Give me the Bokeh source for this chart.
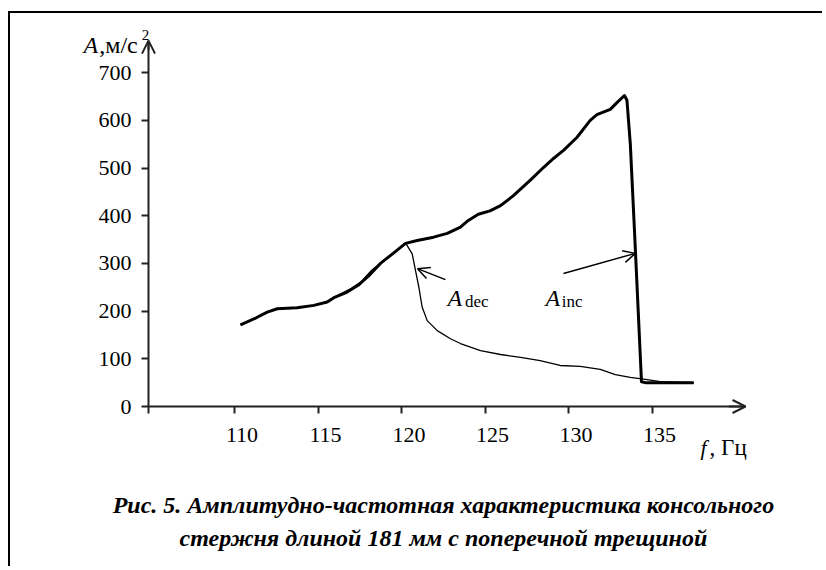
from bokeh.plotting import figure
from bokeh.models import Range1d, FixedTicker, Label, Arrow, OpenHead, LinearAxis
from bokeh.embed import file_html
from bokeh.resources import INLINE

# ---- data ----
f_inc = [110.36, 111.3, 111.96, 112.56, 113.75, 114.75, 115.55, 115.95, 116.75, 117.4,
         118.1, 118.74, 119.5, 120.24, 120.94, 121.92, 122.74, 123.53, 124.0, 124.6,
         125.3, 125.93, 126.7, 127.7, 128.5, 129.1, 129.7, 130.5, 131.3, 131.7,
         132.5, 132.9, 133.35, 133.5, 133.7, 133.95, 134.37, 134.6, 135.5, 137.5]
a_inc = [171, 186, 198, 205, 207, 212, 219, 228, 240, 254,
         276, 300, 321, 342, 348, 355, 363, 376, 390, 403,
         410, 421, 442, 474, 501, 520, 537, 564, 600, 612,
         623, 637, 652, 642, 551, 369, 52, 50, 50, 50]

f_dec = [110.36, 111.3, 111.96, 112.56, 113.75, 114.75, 115.55, 116.3, 117.0, 117.6,
         118.2, 118.74, 119.5, 120.24, 120.64, 120.84, 121.04, 121.24, 121.54, 122.14,
         122.93, 123.53, 124.73, 125.93, 127.13, 128.3, 129.5, 130.7, 131.9, 132.8,
         133.7, 134.6, 135.5, 137.5]
a_dec = [171, 186, 198, 205, 207, 212, 219, 235, 248, 262,
         285, 301, 321, 343, 320, 285, 250, 208, 180, 159,
         142, 132, 117, 109, 103, 96, 86, 84, 78, 67,
         61, 57, 52, 50]

x_ticks = [110, 115, 120, 125, 130, 135]
y_ticks = [0, 100, 200, 300, 400, 500, 600, 700]

X0, X_END = 104.85, 140.6
Y_END = 767
LABEL_SHIFT = 0.45   # x tick labels sit slightly right of their ticks in the original

SERIF = "Liberation Serif"
W, H = 814, 555
XPX, YPX = 16.7, 0.477          # pixels per unit
xs = X0 - 138 / XPX
ye = 393 / YPX

p = figure(width=W, height=H,
           x_range=Range1d(xs, xs + W / XPX),
           y_range=Range1d(ye - H / YPX, ye),
           output_backend="svg", toolbar_location=None)
p.min_border = 0
p.title.visible = False
p.styles = {"border-top": "2px solid black", "border-left": "2px solid black",
            "margin-top": "11px", "margin-left": "8px"}
p.xgrid.visible = False
p.ygrid.visible = False
p.outline_line_color = None
p.background_fill_color = "white"
p.border_fill_color = "white"

for ax in (p.xaxis[0], p.yaxis[0]):
    ax.axis_line_width = 2
    ax.axis_line_color = "#222222"
    ax.major_tick_line_width = 2
    ax.major_tick_line_color = "#222222"
    ax.major_tick_out = 7
    ax.major_tick_in = 0
    ax.minor_tick_out = 0
    ax.minor_tick_in = 0
    ax.major_label_text_font = SERIF
    ax.major_label_text_font_size = "22px"
    ax.major_label_text_color = "black"

p.xaxis[0].fixed_location = 0
p.yaxis[0].fixed_location = X0
p.xaxis[0].ticker = FixedTicker(ticks=[X0] + x_ticks)
p.xaxis[0].major_label_text_color = None
p.xaxis[0].bounds = (X0, X_END)
p.yaxis[0].ticker = FixedTicker(ticks=y_ticks)
p.yaxis[0].bounds = (0, Y_END)
p.yaxis[0].major_label_standoff = 10

# label-only x axis (labels offset a little to the right of the ticks)
lab_ticks = [t + LABEL_SHIFT for t in x_ticks]
lab_axis = LinearAxis(fixed_location=0, ticker=FixedTicker(ticks=lab_ticks),
                      major_label_overrides={lt: str(t) for lt, t in zip(lab_ticks, x_ticks)},
                      axis_line_color=None, major_tick_line_color=None,
                      minor_tick_line_color=None, major_tick_out=7, major_tick_in=0,
                      minor_tick_out=0, minor_tick_in=0,
                      major_label_standoff=14, major_label_text_font=SERIF,
                      major_label_text_font_size="22px", major_label_text_color="black")
p.add_layout(lab_axis, "below")

# axis arrows
p.add_layout(Arrow(end=OpenHead(size=13, line_width=2, line_color="#222222"),
                   x_start=X0, y_start=Y_END - 20, x_end=X0, y_end=Y_END,
                   line_width=2, line_color="#222222"))
p.add_layout(Arrow(end=OpenHead(size=13, line_width=2, line_color="#222222"),
                   x_start=X_END - 1, y_start=0, x_end=X_END, y_end=0,
                   line_width=2, line_color="#222222"))

# curves
p.line(f_dec, a_dec, line_width=1.3, line_color="black")
p.line(f_inc, a_inc, line_width=3, line_color="black", line_join="round")

# annotation arrows
p.add_layout(Arrow(end=OpenHead(size=12, line_width=1.5), x_start=122.63, y_start=266,
                   x_end=120.96, y_end=289, line_width=1.5))
p.add_layout(Arrow(end=OpenHead(size=12, line_width=1.5), x_start=129.70, y_start=279,
                   x_end=134.0, y_end=321, line_width=1.5))

def lab(x, y, text, size, style="normal", baseline="alphabetic", align="left"):
    p.add_layout(Label(x=x, y=y, text=text, text_font=SERIF, text_font_size=size,
                       text_font_style=style, text_baseline=baseline,
                       text_align=align, text_color="black"))

lab(122.75, 228.5, "A", "24px", "italic")
lab(123.80, 220, "dec", "17px")
lab(128.62, 228.5, "A", "24px", "italic")
lab(129.60, 220, "inc", "17px")

# axis titles
lab(100.96, 757, "A", "24px", "italic")
lab(101.9, 757, ",м/с", "24px")
lab(104.45, 779, "2", "15px")
lab(137.9, -86, "f", "22px", "italic")
lab(138.45, -86, ", Гц", "23px")

# caption
lab(122.51, -207.5, "Рис. 5. Амплитудно-частотная характеристика консольного", "24px",
    "bold italic", "middle", "center")
lab(122.51, -276.7, "стержня длиной 181 мм с поперечной трещиной", "24px",
    "bold italic", "middle", "center")

open("out.html", "w").write(file_html(p, INLINE))
